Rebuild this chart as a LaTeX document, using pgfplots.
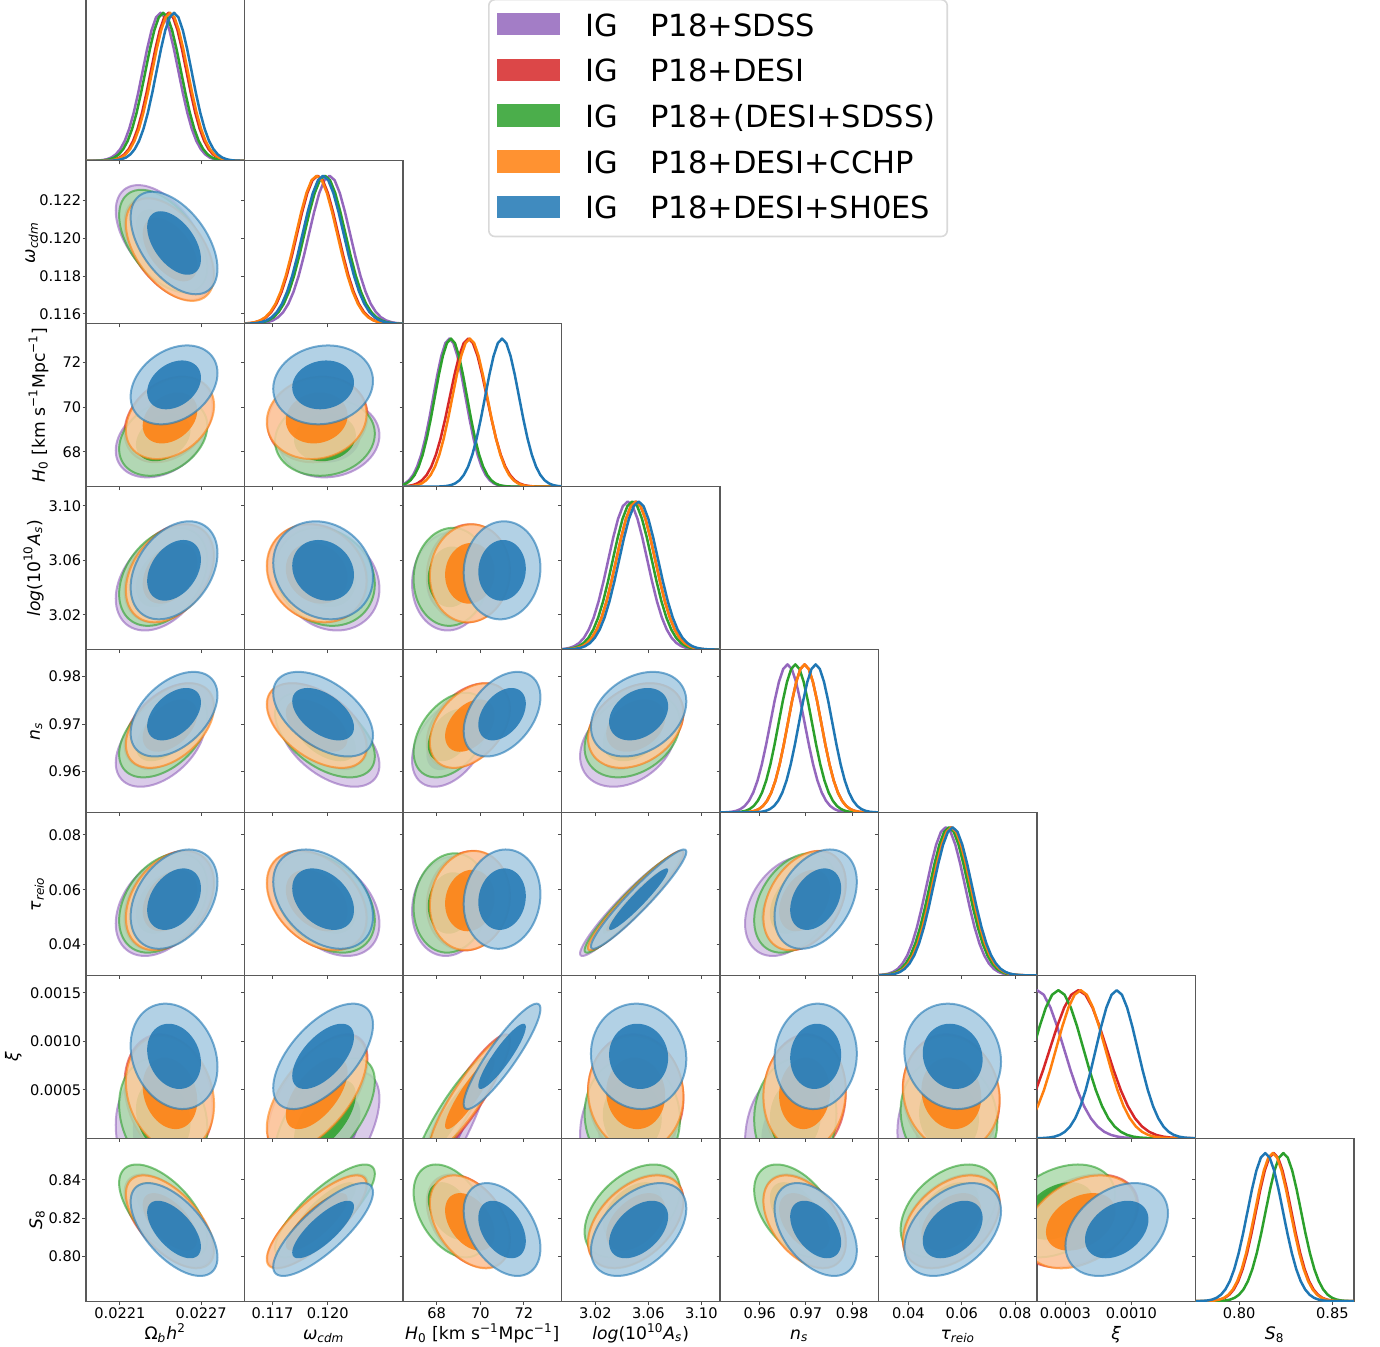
\documentclass[border=0pt]{standalone}
\usepackage{fontspec}
\setmainfont{DejaVu Sans}
\usepackage{pgfplots}
\usepackage{pgfplotstable}
\pgfplotsset{compat=1.18}

\definecolor{cP}{RGB}{148,103,189}
\definecolor{cR}{RGB}{214,39,40}
\definecolor{cG}{RGB}{44,160,44}
\definecolor{cO}{RGB}{255,127,14}
\definecolor{cB}{RGB}{31,119,180}

% standard normal profile (t, exp(-t^2/2))
\pgfplotstableread{
t g
-40 0
-4.5 0.0000401
-4.25 0.000120
-4 0.000335
-3.75 0.000884
-3.5 0.002187
-3.25 0.005086
-3 0.011109
-2.75 0.022794
-2.5 0.043937
-2.25 0.079560
-2 0.135335
-1.75 0.216265
-1.5 0.324652
-1.25 0.457833
-1 0.606531
-0.75 0.754840
-0.5 0.882497
-0.25 0.969233
0 1
0.25 0.969233
0.5 0.882497
0.75 0.754840
1 0.606531
1.25 0.457833
1.5 0.324652
1.75 0.216265
2 0.135335
2.25 0.079560
2.5 0.043937
2.75 0.022794
3 0.011109
3.25 0.005086
3.5 0.002187
3.75 0.000884
4 0.000335
4.25 0.000120
4.5 0.0000401
40 0
}\gtab

% unit circle (cos, sin) every 5 degrees
\pgfplotstableread{
cs sn
1 0
0.99619 0.08716
0.98481 0.17365
0.96593 0.25882
0.93969 0.34202
0.90631 0.42262
0.86603 0.5
0.81915 0.57358
0.76604 0.64279
0.70711 0.70711
0.64279 0.76604
0.57358 0.81915
0.5 0.86603
0.42262 0.90631
0.34202 0.93969
0.25882 0.96593
0.17365 0.98481
0.08716 0.99619
0 1
-0.08716 0.99619
-0.17365 0.98481
-0.25882 0.96593
-0.34202 0.93969
-0.42262 0.90631
-0.5 0.86603
-0.57358 0.81915
-0.64279 0.76604
-0.70711 0.70711
-0.76604 0.64279
-0.81915 0.57358
-0.86603 0.5
-0.90631 0.42262
-0.93969 0.34202
-0.96593 0.25882
-0.98481 0.17365
-0.99619 0.08716
-1 0
-0.99619 -0.08716
-0.98481 -0.17365
-0.96593 -0.25882
-0.93969 -0.34202
-0.90631 -0.42262
-0.86603 -0.5
-0.81915 -0.57358
-0.76604 -0.64279
-0.70711 -0.70711
-0.64279 -0.76604
-0.57358 -0.81915
-0.5 -0.86603
-0.42262 -0.90631
-0.34202 -0.93969
-0.25882 -0.96593
-0.17365 -0.98481
-0.08716 -0.99619
0 -1
0.08716 -0.99619
0.17365 -0.98481
0.25882 -0.96593
0.34202 -0.93969
0.42262 -0.90631
0.5 -0.86603
0.57358 -0.81915
0.64279 -0.76604
0.70711 -0.70711
0.76604 -0.64279
0.81915 -0.57358
0.86603 -0.5
0.90631 -0.42262
0.93969 -0.34202
0.96593 -0.25882
0.98481 -0.17365
0.99619 -0.08716
1 0
}\circtab

% ---- posterior summaries ----
% means: a=Omega_b h^2, b=omega_cdm, c=H0, d=log(10^10 As), e=ns, f=tau, g=xi, h=S8
\def\mPa{0.02240}\def\mRa{0.02246}\def\mGa{0.02242}\def\mOa{0.02247}\def\mBa{0.02250}
\def\mPb{0.12010}\def\mRb{0.11945}\def\mGb{0.11985}\def\mOb{0.11940}\def\mBb{0.11975}
\def\mPc{68.58}\def\mRc{69.45}\def\mGc{68.65}\def\mOc{69.52}\def\mBc{71.00}
\def\mPd{3.0445}\def\mRd{3.0505}\def\mGd{3.0479}\def\mOd{3.0505}\def\mBd{3.0527}
\def\mPe{0.9660}\def\mRe{0.9697}\def\mGe{0.9677}\def\mOe{0.9697}\def\mBe{0.9721}
\def\mPf{0.0540}\def\mRf{0.0560}\def\mGf{0.0552}\def\mOf{0.0561}\def\mBf{0.0566}
\def\mPg{0.0}\def\mRg{0.000438}\def\mGg{0.000226}\def\mOg{0.000463}\def\mBg{0.000845}
\def\mRh{0.8185}\def\mGh{0.8237}\def\mOh{0.8180}\def\mBh{0.8140}
% 2D widths
\def\sPa{0.000135}\def\sRa{0.000133}\def\sGa{0.000133}\def\sOa{0.000133}\def\sBa{0.000131}
\def\sPb{0.00111}\def\sRb{0.00111}\def\sGb{0.00111}\def\sOb{0.00111}\def\sBb{0.00111}
\def\sPc{0.70}\def\sRc{0.78}\def\sGc{0.70}\def\sOc{0.75}\def\sBc{0.72}
\def\sPd{0.0147}\def\sRd{0.0147}\def\sGd{0.0147}\def\sOd{0.0147}\def\sBd{0.0147}
\def\sPe{0.00375}\def\sRe{0.00364}\def\sGe{0.00364}\def\sOe{0.00364}\def\sBe{0.00364}
\def\sPf{0.0074}\def\sRf{0.0074}\def\sGf{0.0074}\def\sOf{0.0074}\def\sBf{0.0074}
\def\sPg{0.000279}\def\sRg{0.000259}\def\sGg{0.000245}\def\sOg{0.000243}\def\sBg{0.000222}
\def\sRh{0.0099}\def\sGh{0.0099}\def\sOh{0.0099}\def\sBh{0.0099}
% 1D widths
\def\tPa{0.000132}\def\tRa{0.000131}\def\tGa{0.000131}\def\tOa{0.000131}\def\tBa{0.000129}
\def\tPb{0.00112}\def\tRb{0.00112}\def\tGb{0.00112}\def\tOb{0.00112}\def\tBb{0.00112}
\def\tPc{0.74}\def\tRc{0.85}\def\tGc{0.74}\def\tOc{0.80}\def\tBc{0.78}
\def\tPd{0.0147}\def\tRd{0.0147}\def\tGd{0.0147}\def\tOd{0.0147}\def\tBd{0.0147}
\def\tPe{0.0037}\def\tRe{0.0036}\def\tGe{0.0036}\def\tOe{0.0036}\def\tBe{0.0036}
\def\tPf{0.0072}\def\tRf{0.0072}\def\tGf{0.0072}\def\tOf{0.0072}\def\tBf{0.0072}
\def\tPg{0.000285}\def\tRg{0.00030}\def\tGg{0.000265}\def\tOg{0.00026}\def\tBg{0.00022}
\def\tRh{0.0095}\def\tGh{0.0095}\def\tOh{0.0095}\def\tBh{0.0095}

% ---- drawing helpers ----
\newcommand{\ELL}[4]{% series, x-par, y-par, rho
\addplot[forget plot, draw=c#1, draw opacity=0.6, line width=1pt, line join=round,
  fill=c#1!40!white, fill opacity=0.85]
  table[x expr={\csname m#1#2\endcsname+2.448*\csname s#1#2\endcsname*\thisrow{cs}},
        y expr={\csname m#1#3\endcsname+2.448*\csname s#1#3\endcsname*((#4)*\thisrow{cs}+sqrt(1-(#4)*(#4))*\thisrow{sn})}]{\circtab};
\addplot[forget plot, draw=none, fill=c#1, fill opacity=0.85]
  table[x expr={\csname m#1#2\endcsname+1.515*\csname s#1#2\endcsname*\thisrow{cs}},
        y expr={\csname m#1#3\endcsname+1.515*\csname s#1#3\endcsname*((#4)*\thisrow{cs}+sqrt(1-(#4)*(#4))*\thisrow{sn})}]{\circtab};
}
\newcommand{\ELLall}[3]{\ELL{P}{#1}{#2}{#3}\ELL{R}{#1}{#2}{#3}\ELL{G}{#1}{#2}{#3}\ELL{O}{#1}{#2}{#3}\ELL{B}{#1}{#2}{#3}}
\newcommand{\ELLnop}[3]{\ELL{R}{#1}{#2}{#3}\ELL{G}{#1}{#2}{#3}\ELL{O}{#1}{#2}{#3}\ELL{B}{#1}{#2}{#3}}
\newcommand{\GAU}[2]{%
\addplot[forget plot, c#1, line width=1.25pt, line join=round]
  table[x expr={\csname m#1#2\endcsname+\csname t#1#2\endcsname*\thisrow{t}}, y=g]{\gtab};}
\newcommand{\GAUall}[1]{\GAU{P}{#1}\GAU{R}{#1}\GAU{G}{#1}\GAU{O}{#1}\GAU{B}{#1}}
\newcommand{\GAUnop}[1]{\GAU{R}{#1}\GAU{G}{#1}\GAU{O}{#1}\GAU{B}{#1}}

\pgfplotsset{
  panel/.style={scale only axis, width=79.25pt, height=81.45pt, anchor=south west,
    scaled ticks=false,
    tick align=outside, major tick length=1.75pt, xtick pos=lower, ytick pos=left,
    tick style={black!70, line width=0.5pt},
    axis line style={black!65, line width=0.6pt},
    xticklabels={}, yticklabels={},
    tick label style={font=\fontsize{7.3}{8.5}\selectfont},
    x tick label style={anchor=base, yshift=-6.8pt},
    y tick label style={anchor=east, inner sep=0pt, xshift=-0.5pt},
    label style={font=\fontsize{8.6}{10}\selectfont},
    xlabel style={at={(axis description cs:0.5,-0.2380)}, anchor=base},
    ylabel style={anchor=base}},
  oneD/.style={panel, ymin=0, ymax=1.1},
  xa/.style={xmin=0.02185, xmax=0.02302, xtick={0.0221,0.0227}},
  xb/.style={xmin=0.11547, xmax=0.12410, xtick={0.117,0.120}},
  xc/.style={xmin=66.45, xmax=73.73, xtick={68,70,72}},
  xd/.style={xmin=2.9945, xmax=3.1141, xtick={3.02,3.06,3.10}},
  xe/.style={xmin=0.9514, xmax=0.9857, xtick={0.96,0.97,0.98}},
  xf/.style={xmin=0.0288, xmax=0.0882, xtick={0.04,0.06,0.08}},
  xg/.style={xmin=0, xmax=0.00168, xtick={0.0003,0.0010}},
  xh/.style={xmin=0.7766, xmax=0.8616, xtick={0.80,0.85}},
  yb/.style={ymin=0.11547, ymax=0.12410, ytick={0.116,0.118,0.120,0.122}},
  yc/.style={ymin=66.45, ymax=73.73, ytick={68,70,72}},
  yd/.style={ymin=2.9945, ymax=3.1141, ytick={3.02,3.06,3.10}},
  ye/.style={ymin=0.9514, ymax=0.9857, ytick={0.96,0.97,0.98}},
  yf/.style={ymin=0.0288, ymax=0.0882, ytick={0.04,0.06,0.08}},
  yg/.style={ymin=0, ymax=0.00168, ytick={0.0005,0.0010,0.0015}},
  yh/.style={ymin=0.7766, ymax=0.8616, ytick={0.80,0.82,0.84}},
  La/.style={xticklabels={0.0221,0.0227}, xlabel={Ω\textsubscript{\textit{b}}\textit{h}\textsuperscript{2}}},
  Lb/.style={xticklabels={0.117,0.120}, xlabel={\textit{ω}\textsubscript{\textit{cdm}}}},
  Lc/.style={xticklabels={68,70,72}, xlabel={\textit{H}\textsubscript{0} [km s\textsuperscript{−1}Mpc\textsuperscript{−1}]}},
  Ld/.style={xticklabels={3.02,3.06,3.10}, xlabel={\textit{log}(10\textsuperscript{10}\textit{A}\textsubscript{\textit{s}})}},
  Le/.style={xticklabels={0.96,0.97,0.98}, xlabel={\textit{n}\textsubscript{\textit{s}}}},
  Lf/.style={xticklabels={0.04,0.06,0.08}, xlabel={\textit{τ}\textsubscript{\textit{reio}}}},
  Lg/.style={xticklabels={0.0003,0.0010}, xlabel={\textit{ξ}}},
  Lh/.style={xticklabels={0.80,0.85}, xlabel={\textit{S}\textsubscript{8}}},
  Mb/.style={yticklabels={0.116,0.118,0.120,0.122}, ylabel={\textit{ω}\textsubscript{\textit{cdm}}}, ylabel style={at={(axis description cs:-0.3218,0.5)}}},
  Mc/.style={yticklabels={68,70,72}, ylabel={\textit{H}\textsubscript{0} [km s\textsuperscript{−1}Mpc\textsuperscript{−1}]}, ylabel style={at={(axis description cs:-0.2587,0.5)}}},
  Md/.style={yticklabels={3.02,3.06,3.10}, ylabel={\textit{log}(10\textsuperscript{10}\textit{A}\textsubscript{\textit{s}})}, ylabel style={at={(axis description cs:-0.2902,0.5)}}},
  Me/.style={yticklabels={0.96,0.97,0.98}, ylabel={\textit{n}\textsubscript{\textit{s}}}, ylabel style={at={(axis description cs:-0.2902,0.5)}}},
  Mf/.style={yticklabels={0.04,0.06,0.08}, ylabel={\textit{τ}\textsubscript{\textit{reio}}}, ylabel style={at={(axis description cs:-0.2839,0.5)}}},
  Mg/.style={yticklabels={0.0005,0.0010,0.0015}, ylabel={\textit{ξ}}, ylabel style={at={(axis description cs:-0.4290,0.5)}}},
  Mh/.style={yticklabels={0.80,0.82,0.84}, ylabel={\textit{S}\textsubscript{8}}, ylabel style={at={(axis description cs:-0.2776,0.5)}}},
  lgimg/.style={legend image code/.code={\fill[##1, sharp corners] (1.5pt,-4.4pt) rectangle (33pt,6.8pt);}},
}

\begin{document}
\begin{tikzpicture}
\useasboundingbox (0,0) rectangle (690pt,673.5pt);
% ===== Row 1 =====
\begin{axis}[oneD, xa, ytick=\empty, at={(43pt,593.05pt)},
  legend cell align=left,
  legend style={at={(axis description cs:2.5363,0.9945)}, anchor=north west,
    draw=black!15, line width=0.8pt, rounded corners=3pt, fill=white,
    inner xsep=4pt, inner ysep=5.6pt, font=\fontsize{15.25}{18}\selectfont,
    row sep=7.05pt, column sep=11pt,
    nodes={inner xsep=2pt, inner ysep=0pt, text height=12.6pt, text depth=3.2pt}}]
\GAUall{a}
\addlegendimage{lgimg, fill=cP, fill opacity=0.85, draw=none}\addlegendentry{IG\hspace{1.05em}P18+SDSS}
\addlegendimage{lgimg, fill=cR, fill opacity=0.85, draw=none}\addlegendentry{IG\hspace{1.05em}P18+DESI}
\addlegendimage{lgimg, fill=cG, fill opacity=0.85, draw=none}\addlegendentry{IG\hspace{1.05em}P18+(DESI+SDSS)}
\addlegendimage{lgimg, fill=cO, fill opacity=0.85, draw=none}\addlegendentry{IG\hspace{1.05em}P18+DESI+CCHP}
\addlegendimage{lgimg, fill=cB, fill opacity=0.85, draw=none}\addlegendentry{IG\hspace{1.05em}P18+DESI+SH0ES}
\end{axis}
% ===== Row 2 =====
\begin{axis}[panel, xa, yb, Mb, at={(43pt,511.6pt)}]\ELLall{a}{b}{-0.5}\end{axis}
\begin{axis}[oneD, xb, ytick={0.0676,0.3225,0.5774,0.8323}, at={(122.25pt,511.6pt)}]\GAUall{b}\end{axis}
% ===== Row 3 =====
\begin{axis}[panel, xa, yc, Mc, at={(43pt,430.15pt)}]\ELLall{a}{c}{0.3}\end{axis}
\begin{axis}[panel, xb, yc, at={(122.25pt,430.15pt)}]\ELLall{b}{c}{0.1}\end{axis}
\begin{axis}[oneD, xc, ytick={0.2342,0.5364,0.8386}, at={(201.5pt,430.15pt)}]\GAUall{c}\end{axis}
% ===== Row 4 =====
\begin{axis}[panel, xa, yd, Md, at={(43pt,348.7pt)}]\ELLall{a}{d}{0.35}\end{axis}
\begin{axis}[panel, xb, yd, at={(122.25pt,348.7pt)}]\ELLall{b}{d}{-0.15}\end{axis}
\begin{axis}[panel, xc, yd, at={(201.5pt,348.7pt)}]\ELLall{c}{d}{0.05}\end{axis}
\begin{axis}[oneD, xd, ytick={0.2345,0.6024,0.9703}, at={(280.75pt,348.7pt)}]\GAUall{d}\end{axis}
% ===== Row 5 =====
\begin{axis}[panel, xa, ye, Me, at={(43pt,267.25pt)}]\ELLall{a}{e}{0.45}\end{axis}
\begin{axis}[panel, xb, ye, at={(122.25pt,267.25pt)}]\ELLall{b}{e}{-0.5}\end{axis}
\begin{axis}[panel, xc, ye, at={(201.5pt,267.25pt)}]\ELLall{c}{e}{0.4}\end{axis}
\begin{axis}[panel, xd, ye, at={(280.75pt,267.25pt)}]\ELLall{d}{e}{0.3}\end{axis}
\begin{axis}[oneD, xe, ytick={0.2758,0.5965,0.9172}, at={(360pt,267.25pt)}]\GAUall{e}\end{axis}
% ===== Row 6 =====
\begin{axis}[panel, xa, yf, Mf, at={(43pt,185.8pt)}]\ELLall{a}{f}{0.35}\end{axis}
\begin{axis}[panel, xb, yf, at={(122.25pt,185.8pt)}]\ELLall{b}{f}{-0.35}\end{axis}
\begin{axis}[panel, xc, yf, at={(201.5pt,185.8pt)}]\ELLall{c}{f}{0.1}\end{axis}
\begin{axis}[panel, xd, yf, at={(280.75pt,185.8pt)}]\ELLall{d}{f}{0.95}\end{axis}
\begin{axis}[panel, xe, yf, at={(360pt,185.8pt)}]\ELLall{e}{f}{0.35}\end{axis}
\begin{axis}[oneD, xf, ytick={0.2074,0.5778,0.9482}, at={(439.25pt,185.8pt)}]\GAUall{f}\end{axis}
% ===== Row 7 =====
\begin{axis}[panel, xa, yg, Mg, at={(43pt,104.35pt)}]\ELLall{a}{g}{-0.2}\end{axis}
\begin{axis}[panel, xb, yg, at={(122.25pt,104.35pt)}]\ELLall{b}{g}{0.6}\end{axis}
\begin{axis}[panel, xc, yg, at={(201.5pt,104.35pt)}]\ELLall{c}{g}{0.9}\end{axis}
\begin{axis}[panel, xd, yg, at={(280.75pt,104.35pt)}]\ELLall{d}{g}{-0.05}\end{axis}
\begin{axis}[panel, xe, yg, at={(360pt,104.35pt)}]\ELLall{e}{g}{0.05}\end{axis}
\begin{axis}[panel, xf, yg, at={(439.25pt,104.35pt)}]\ELLall{f}{g}{-0.1}\end{axis}
\begin{axis}[oneD, xg, ytick={0.3274,0.6548,0.9821}, at={(518.5pt,104.35pt)}]\GAUall{g}\end{axis}
% ===== Row 8 =====
\begin{axis}[panel, xa, yh, Mh, La, at={(43pt,22.9pt)}]\ELLnop{a}{h}{-0.6}\end{axis}
\begin{axis}[panel, xb, yh, Lb, at={(122.25pt,22.9pt)}]\ELLnop{b}{h}{0.8}\end{axis}
\begin{axis}[panel, xc, yh, Lc, at={(201.5pt,22.9pt)}]\ELLnop{c}{h}{-0.4}\end{axis}
\begin{axis}[panel, xd, yh, Ld, at={(280.75pt,22.9pt)}]\ELLnop{d}{h}{0.45}\end{axis}
\begin{axis}[panel, xe, yh, Le, at={(360pt,22.9pt)}]\ELLnop{e}{h}{-0.45}\end{axis}
\begin{axis}[panel, xf, yh, Lf, at={(439.25pt,22.9pt)}]\ELLnop{f}{h}{0.4}\end{axis}
\begin{axis}[panel, xg, yh, Lg, at={(518.5pt,22.9pt)}]\ELLnop{g}{h}{0.35}\end{axis}
\begin{axis}[oneD, xh, Lh, ytick={0.3028,0.5616,0.8205}, at={(597.75pt,22.9pt)}]\GAUnop{h}\end{axis}
\end{tikzpicture}
\end{document}
